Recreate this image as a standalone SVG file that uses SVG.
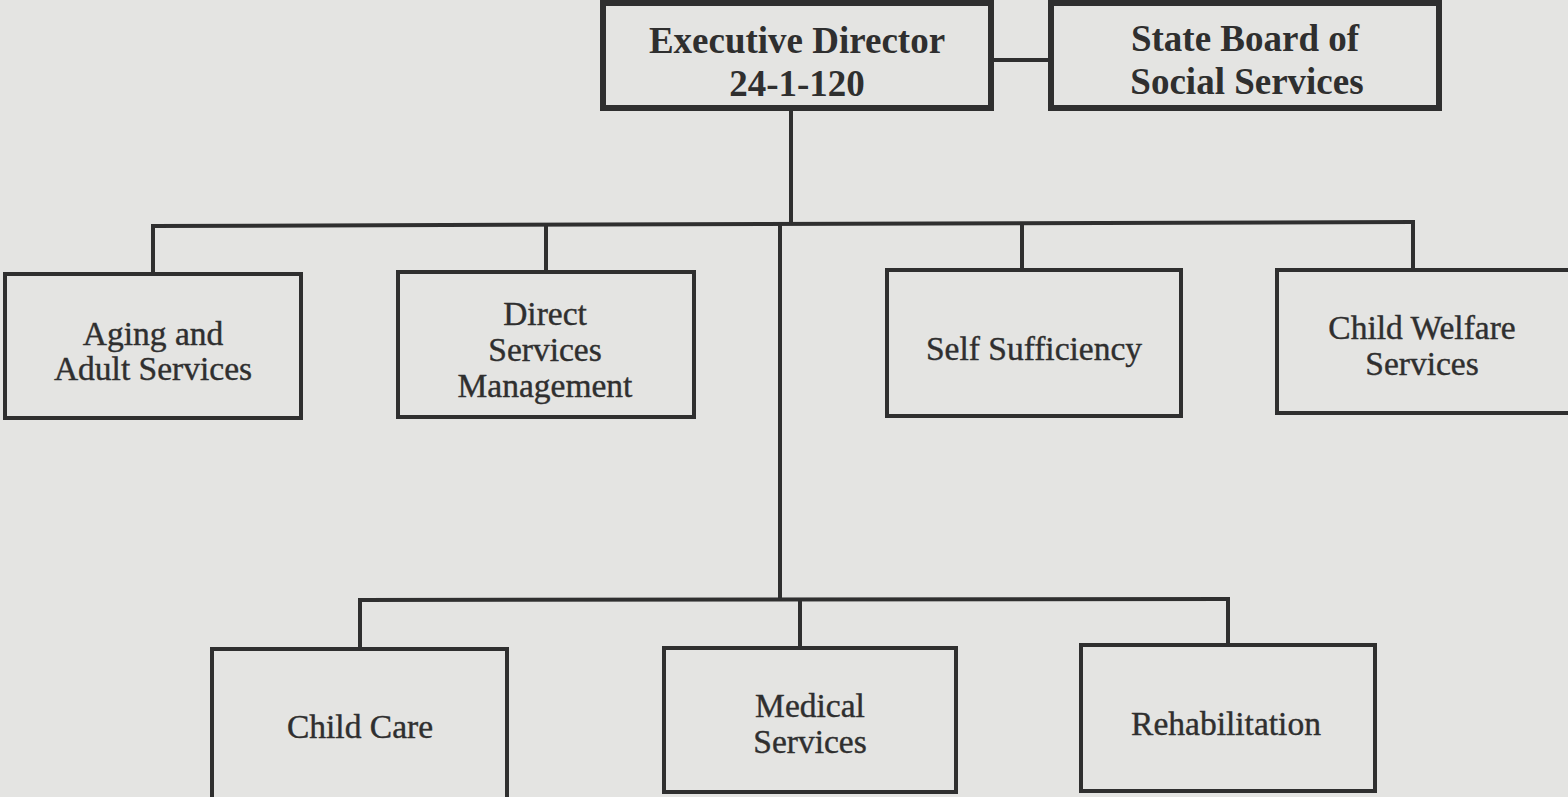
<svg xmlns="http://www.w3.org/2000/svg" width="1568" height="797" viewBox="0 0 1568 797">
<style>
.bg{fill:#e4e4e2}
.box{fill:none;stroke:#2f2f2f;stroke-width:4}
.top{fill:none;stroke:#2f2f2f;stroke-width:6}
.ln{fill:none;stroke:#2f2f2f;stroke-width:4}
.t{font-family:"Liberation Serif",serif;font-size:33.5px;fill:#2f2f2f;stroke:#2f2f2f;stroke-width:0.4;text-anchor:middle}
.b{font-family:"Liberation Serif",serif;font-size:37px;font-weight:bold;fill:#2f2f2f;text-anchor:middle}
</style>
<rect class="bg" x="0" y="0" width="1568" height="797"/>
<g id="connectors">
<line class="ln" x1="991" y1="60" x2="1050" y2="60"/>
<line class="ln" x1="791" y1="108" x2="791" y2="225"/>
<line class="ln" x1="153" y1="226" x2="1413" y2="222"/>
<line class="ln" x1="153" y1="224" x2="153" y2="273"/>
<line class="ln" x1="546" y1="224" x2="546" y2="271"/>
<line class="ln" x1="1022" y1="223" x2="1022" y2="269"/>
<line class="ln" x1="1413" y1="220" x2="1413" y2="269"/>
<line class="ln" x1="780" y1="224" x2="780" y2="600"/>
<line class="ln" x1="360" y1="600" x2="1228" y2="599"/>
<line class="ln" x1="360" y1="598" x2="360" y2="648"/>
<line class="ln" x1="800" y1="599" x2="800" y2="647"/>
<line class="ln" x1="1228" y1="597" x2="1228" y2="644"/>
</g>
<g id="exec">
<rect class="top" x="603" y="3" width="388" height="105"/>
<text class="b" x="797" y="53">Executive Director</text>
<text class="b" x="797" y="96">24-1-120</text>
</g>
<g id="board">
<rect class="top" x="1051" y="3" width="388" height="105"/>
<text class="b" x="1245" y="51">State Board of</text>
<text class="b" x="1247" y="94">Social Services</text>
</g>
<g id="aging">
<rect class="box" x="5" y="274" width="296" height="144"/>
<text class="t" x="153" y="345">Aging and</text>
<text class="t" x="153" y="380">Adult Services</text>
</g>
<g id="direct">
<rect class="box" x="398" y="272" width="296" height="145"/>
<text class="t" x="545" y="325">Direct</text>
<text class="t" x="545" y="361">Services</text>
<text class="t" x="545" y="397">Management</text>
</g>
<g id="self">
<rect class="box" x="887" y="270" width="294" height="146"/>
<text class="t" x="1034" y="360">Self Sufficiency</text>
</g>
<g id="welfare">
<rect class="box" x="1277" y="270" width="295" height="143"/>
<text class="t" x="1422" y="339">Child Welfare</text>
<text class="t" x="1422" y="375">Services</text>
</g>
<g id="childcare">
<rect class="box" x="212" y="649" width="295" height="150"/>
<text class="t" x="360" y="738">Child Care</text>
</g>
<g id="medical">
<rect class="box" x="664" y="648" width="292" height="144"/>
<text class="t" x="810" y="717">Medical</text>
<text class="t" x="810" y="753">Services</text>
</g>
<g id="rehab">
<rect class="box" x="1081" y="645" width="294" height="146"/>
<text class="t" x="1226" y="735">Rehabilitation</text>
</g>
</svg>
